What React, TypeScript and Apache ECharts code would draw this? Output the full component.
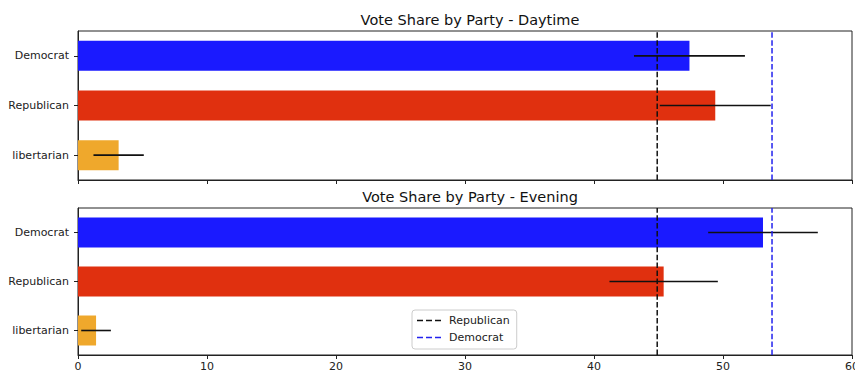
import React, { useEffect, useRef } from "react";
import * as echarts from "echarts";

// Party categories (top to bottom)
const parties = ["Democrat", "Republican", "libertarian"];
const barColors = ["#1a1aff", "#e0300f", "#efa82c"];

// Daytime vote share (%) and error half-widths
const daytimeShare = [47.4, 49.4, 3.15];
const daytimeErr = [4.3, 4.3, 1.95];

// Evening vote share (%) and error half-widths
const eveningShare = [53.1, 45.4, 1.4];
const eveningErr = [4.25, 4.2, 1.15];

// Reference lines
const republicanRef = 44.9;
const democratRef = 53.8;

const xTicks = [0, 10, 20, 30, 40, 50, 60];

const FONT = "DejaVu Sans";
const DASH_ICON = "path://M0,0h6v1h-6z M9,0h6v1h-6z M18,0h6v1h-6z";

function App() {
  const ref = useRef<HTMLDivElement>(null);

  useEffect(() => {
    if (!ref.current) return;
    const chart = echarts.init(ref.current, null, { renderer: "svg" });

    const grids = [
      { left: 78, right: 3, top: 31, height: 149 },
      { left: 78, right: 3, top: 208, height: 147 },
    ];

    const makeX = (idx: number) => ({
      type: "value",
      gridIndex: idx,
      min: xTicks[0],
      max: xTicks[xTicks.length - 1],
      interval: 10,
      axisLine: { show: true, onZero: false, lineStyle: { color: "#222", width: 1 } },
      axisTick: { show: true, length: 4, lineStyle: { color: "#222" } },
      axisLabel: {
        show: idx === 1,
        color: "#222",
        fontFamily: FONT,
        fontSize: 11,
        margin: 6,
      },
      splitLine: { show: false },
    });

    const makeCat = (idx: number) => ({
      type: "category",
      gridIndex: idx,
      data: parties,
      inverse: true,
      axisLine: { show: true, lineStyle: { color: "#222" } },
      axisTick: { show: true, alignWithLabel: true, length: 4, lineStyle: { color: "#222" } },
      axisLabel: { color: "#222", fontFamily: FONT, fontSize: 11, margin: 9 },
    });

    const makeHidden = (idx: number) => ({
      type: "value",
      gridIndex: idx,
      min: 0,
      max: 1,
      show: false,
    });

    const barSeries = (name: string, idx: number, vals: number[]) => ({
      name,
      type: "bar",
      xAxisIndex: idx,
      yAxisIndex: idx,
      barWidth: 30,
      data: vals.map((v, i) => ({ value: v, itemStyle: { color: barColors[i] } })),
    });

    const errSeries = (name: string, idx: number, vals: number[], errs: number[]) => ({
      name,
      type: "custom",
      xAxisIndex: idx,
      yAxisIndex: idx,
      z: 5,
      data: vals.map((v, i) => [v - errs[i], v + errs[i], i]),
      renderItem: (_params: any, api: any) => {
        const lo = api.coord([api.value(0), api.value(2)]);
        const hi = api.coord([api.value(1), api.value(2)]);
        return {
          type: "line",
          shape: { x1: lo[0], y1: lo[1], x2: hi[0], y2: hi[1] },
          style: { stroke: "#111", lineWidth: 1.6 },
        };
      },
    });

    const refLine = (name: string, idx: number, x: number, color: string) => ({
      name,
      type: "line",
      xAxisIndex: idx,
      yAxisIndex: idx + 2,
      symbol: "none",
      z: 6,
      lineStyle: { color, width: 1.5, type: [5.5, 2.4] },
      itemStyle: { color },
      data: [
        [x, 0],
        [x, 1],
      ],
    });

    chart.setOption({
      animation: false,
      backgroundColor: "#ffffff",
      title: [
        {
          text: "Vote Share by Party - Daytime",
          left: 465,
          textAlign: "center",
          top: 7,
          textStyle: { fontFamily: FONT, fontSize: 14.5, fontWeight: "normal", color: "#111" },
        },
        {
          text: "Vote Share by Party - Evening",
          left: 465,
          textAlign: "center",
          top: 184,
          textStyle: { fontFamily: FONT, fontSize: 14.5, fontWeight: "normal", color: "#111" },
        },
      ],
      legend: {
        data: [
          { name: "Republican", icon: DASH_ICON, itemStyle: { color: "#111" } },
          { name: "Democrat", icon: DASH_ICON, itemStyle: { color: "#2222ee" } },
        ],
        orient: "vertical",
        left: 412,
        top: 310,
        itemWidth: 24,
        itemHeight: 1.6,
        symbolKeepAspect: false,
        itemGap: 6,
        padding: [5, 7, 6, 5],
        borderColor: "#ccc",
        borderWidth: 1,
        borderRadius: 3,
        backgroundColor: "rgba(255,255,255,0.85)",
        textStyle: { fontFamily: FONT, fontSize: 11, color: "#222", padding: [0, 0, 0, 3] },
      },
      grid: grids.map((g) => ({
        ...g,
        show: true,
        borderColor: "#222",
        borderWidth: 1,
        backgroundColor: "transparent",
        outerBoundsMode: "none",
      })),
      xAxis: [makeX(0), makeX(1)],
      yAxis: [makeCat(0), makeCat(1), makeHidden(0), makeHidden(1)],
      series: [
        barSeries("Daytime", 0, daytimeShare),
        errSeries("Daytime error", 0, daytimeShare, daytimeErr),
        refLine("Republican", 0, republicanRef, "#111"),
        refLine("Democrat", 0, democratRef, "#2222ee"),
        barSeries("Evening", 1, eveningShare),
        errSeries("Evening error", 1, eveningShare, eveningErr),
        refLine("Republican", 1, republicanRef, "#111"),
        refLine("Democrat", 1, democratRef, "#2222ee"),
      ],
    });

    return () => chart.dispose();
  }, []);

  return (
    <div
      ref={ref}
      style={{ position: "fixed", left: 0, top: 0, width: 855, height: 373, background: "#fff" }}
    />
  );
}

export default App;
